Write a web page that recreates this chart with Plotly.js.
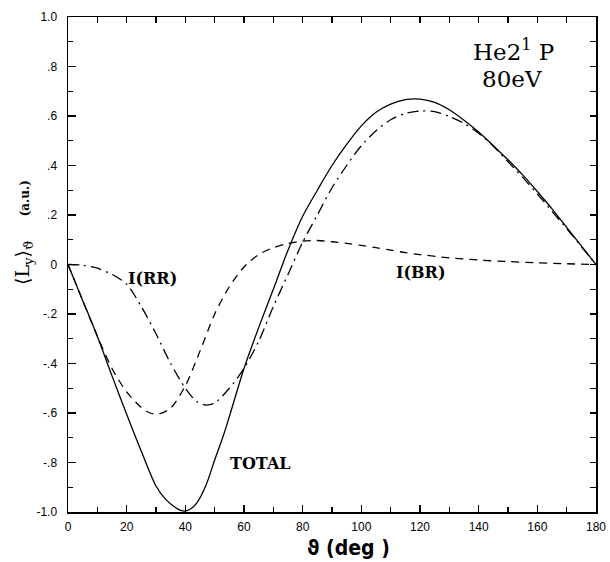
<!DOCTYPE html>
<html>
<head>
<meta charset="utf-8">
<script src="https://cdn.plot.ly/plotly-3.0.1.min.js"></script>
<style>html,body{margin:0;padding:0;background:#fff}#plot{width:610px;height:562px}</style>
</head>
<body>
<div id="plot"></div>
<script>
// Angles (deg)
const thetaTotal = [0,5,10,15,20,25,30,33,36,38,40,42,44,47,50,53,55,60,65,70,75,80,85,90,95,100,105,110,115,120,125,130,135,140,145,150,155,160,165,170,175,180];
const total =      [0,-0.145,-0.29,-0.45,-0.605,-0.755,-0.895,-0.945,-0.977,-0.991,-0.996,-0.986,-0.962,-0.893,-0.79,-0.69,-0.615,-0.42,-0.255,-0.10,0.058,0.195,0.30,0.40,0.485,0.56,0.615,0.648,0.666,0.668,0.655,0.625,0.583,0.535,0.48,0.423,0.362,0.295,0.225,0.15,0.075,0];

const thetaRR = [0,5,10,15,20,25,30,35,40,44,47,50,55,60,65,70,75,80,85,90,95,100,105,110,115,120,125,130,135,140,145,150,155,160,165,170,175,180];
const iRR =     [0,-0.003,-0.015,-0.04,-0.08,-0.17,-0.28,-0.40,-0.50,-0.555,-0.568,-0.56,-0.50,-0.42,-0.31,-0.17,-0.04,0.09,0.20,0.31,0.40,0.48,0.54,0.585,0.61,0.62,0.618,0.598,0.57,0.53,0.478,0.415,0.352,0.285,0.215,0.145,0.072,0];

const thetaBR = [0,5,10,15,20,25,28,31,35,40,45,50,55,60,65,70,75,80,85,90,95,100,105,110,115,120,130,140,150,160,170,180];
const iBR =     [0,-0.145,-0.29,-0.42,-0.515,-0.578,-0.600,-0.604,-0.58,-0.49,-0.35,-0.20,-0.09,-0.01,0.04,0.068,0.085,0.095,0.097,0.092,0.085,0.077,0.068,0.058,0.048,0.040,0.027,0.018,0.012,0.007,0.003,0];

const yTickVals = [1.0,0.8,0.6,0.4,0.2,0,-0.2,-0.4,-0.6,-0.8,-1.0];
const yTickText = ["1.0",".8",".6",".4",".2","0","-.2","-.4","-.6","-.8","-1.0"];
const xTickVals = [0,20,40,60,80,100,120,140,160,180];
const xTickText = ["0","20","40","60","80","100","120","140","160","180"];

const lineW = 1.3;
const traces = [
  {x: thetaTotal, y: total, mode: 'lines', line: {color: '#000', width: lineW, shape: 'spline', smoothing: 0.8}, hoverinfo: 'skip'},
  {x: thetaRR, y: iRR, mode: 'lines', line: {color: '#000', width: lineW, dash: '11px,5px,2px,5px', shape: 'spline', smoothing: 0.8}, hoverinfo: 'skip'},
  {x: thetaBR, y: iBR, mode: 'lines', line: {color: '#000', width: lineW, dash: '8px,6px', shape: 'spline', smoothing: 0.8}, hoverinfo: 'skip'},
  {x: thetaTotal, y: total, xaxis: 'x2', yaxis: 'y2', mode: 'lines', line: {color: 'rgba(0,0,0,0)', width: 0}, hoverinfo: 'skip'}
];

const tickFont = {family: 'Liberation Sans, Arial, sans-serif', size: 12, color: '#000'};
const labFont = {family: 'DejaVu Serif, serif', size: 16, color: '#000'};
const bigFont = {family: 'DejaVu Serif, serif', size: 23, color: '#000'};

const layout = {
  width: 610, height: 562,
  margin: {l: 68, r: 14, t: 17, b: 50},
  paper_bgcolor: '#fff', plot_bgcolor: '#fff',
  showlegend: false,
  xaxis: {
    range: [0, 180], tickvals: xTickVals, ticktext: xTickText,
    ticks: 'inside', ticklen: 7, tickwidth: 1.2, tickcolor: '#000',
    minor: {dtick: 10, ticks: 'inside', ticklen: 5, tickwidth: 1.2, tickcolor: '#000'},
    showline: true, linecolor: '#000', linewidth: 1.5, showgrid: false, zeroline: false,
    tickfont: tickFont, ticklabelstandoff: 3
  },
  yaxis: {
    range: [-1, 1], tickvals: yTickVals, ticktext: yTickText,
    ticks: 'inside', ticklen: 8, tickwidth: 1.2, tickcolor: '#000',
    minor: {dtick: 0.1, ticks: 'inside', ticklen: 5, tickwidth: 1.2, tickcolor: '#000'},
    showline: true, linecolor: '#000', linewidth: 1.5, showgrid: false, zeroline: false,
    tickfont: tickFont, ticklabelstandoff: 7
  },
  xaxis2: {
    overlaying: 'x', side: 'top', range: [0, 180], dtick: 10, tick0: 0,
    ticks: 'inside', ticklen: 6, tickwidth: 1.2, tickcolor: '#000',
    showticklabels: false, showline: true, linecolor: '#000', linewidth: 1.5, showgrid: false, zeroline: false
  },
  yaxis2: {
    overlaying: 'y', side: 'right', range: [-1, 1], dtick: 0.1, tick0: 0,
    ticks: 'inside', ticklen: 6, tickwidth: 1.2, tickcolor: '#000',
    showticklabels: false, showline: true, linecolor: '#000', linewidth: 1.5, showgrid: false, zeroline: false
  },
  annotations: [
    {text: 'He2<sup>1</sup> P', x: 513, y: 50, font: bigFont},
    {text: '80eV', x: 512, y: 79, font: bigFont},
    {text: '<b>I(RR)</b>', x: 152, y: 278, font: labFont},
    {text: '<b>I(BR)</b>', x: 420, y: 272, font: labFont},
    {text: '<b>TOTAL</b>', x: 260, y: 463, font: labFont},
    {text: '<b>ϑ (deg )</b>', x: 348, y: 548, font: {family: 'DejaVu Sans Condensed, DejaVu Sans, sans-serif', size: 21, color: '#000'}},
    {text: '⟨L<sub>y</sub>⟩<sub>ϑ</sub>    <b><span style="font-size:12px">(a.u.)</span></b>', x: 24, y: 233, textangle: -90,
     font: {family: 'DejaVu Serif, serif', size: 19, color: '#000'}}
  ]
};
// place annotations by pixel position in the figure
const W = 610, H = 562, L = 68, R = 14, T = 17, B = 50;
const pw = W - L - R, ph = H - T - B;
layout.annotations.forEach(a => {
  a.xref = 'paper'; a.yref = 'paper'; a.showarrow = false;
  const px = a.x, py = a.y;
  a.x = (px - L) / pw; a.y = 1 - (py - T) / ph;
  a.xanchor = 'center'; a.yanchor = 'middle';
});
Plotly.newPlot('plot', traces, layout, {staticPlot: true});
</script>
</body>
</html>
